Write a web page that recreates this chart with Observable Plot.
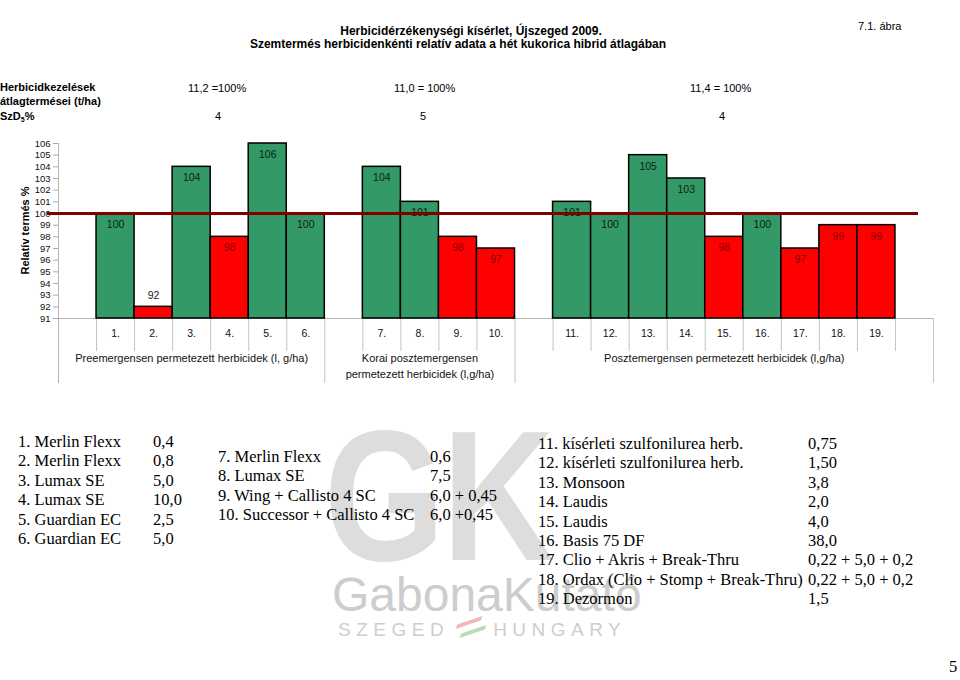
<!DOCTYPE html>
<html><head><meta charset="utf-8">
<script src="https://cdn.jsdelivr.net/npm/d3@7"></script>
<script src="https://cdn.jsdelivr.net/npm/@observablehq/plot@0.6"></script>
<style>
body{margin:0;background:#fff;}
#page{position:relative;width:960px;height:680px;overflow:hidden;font-family:"Liberation Sans",Arial,sans-serif;color:#000;background:#fff;}
.abs{position:absolute;white-space:nowrap;line-height:13px;z-index:2;}
.leg{position:absolute;font-family:"Liberation Serif","Times New Roman",serif;font-size:16.5px;line-height:19.4px;z-index:2;white-space:nowrap;color:#000;}
.leg span{display:inline-block;}
#chart{position:absolute;left:0;top:130px;z-index:1;}
.wm{position:absolute;z-index:0;white-space:nowrap;line-height:1;}
</style></head><body><div id="page"></div>
<script>
// ---- data ----
const categories = ["1.","2.","3.","4.","5.","6.","7.","8.","9.","10.","11.","12.","13.","14.","15.","16.","17.","18.","19."];
const values = [100, 92, 104, 98, 106, 100, 104, 101, 98, 97, 101, 100, 105, 103, 98, 100, 97, 99, 99];
const groupNames = [
  "Preemergensen permetezett herbicidek (l, g/ha)",
  "Korai posztemergensen\npermetezett herbicidek (l,g/ha)",
  "Posztemergensen permetezett herbicidek (l,g/ha)"
];
const groupSizes = [6, 4, 9];
const groupYield = ["11,2 =100%", "11,0 = 100%", "11,4 = 100%"];
const groupSzD = ["4", "5", "4"];
const yTicks = [91,92,93,94,95,96,97,98,99,100,101,102,103,104,105,106];
const reference = 100;
const legend1Names = ["1. Merlin Flexx","2. Merlin Flexx","3. Lumax SE","4. Lumax SE","5. Guardian EC","6. Guardian EC"];
const legend1Doses = ["0,4","0,8","5,0","10,0","2,5","5,0"];
const legend2Names = ["7. Merlin Flexx","8. Lumax SE","9. Wing + Callisto 4 SC","10. Successor + Callisto 4 SC"];
const legend2Doses = ["0,6","7,5","6,0 + 0,45","6,0 +0,45"];
const legend3Names = ["11. kísérleti szulfonilurea herb.","12. kísérleti szulfonilurea herb.","13. Monsoon","14. Laudis","15. Laudis","16. Basis 75 DF","17. Clio + Akris + Break-Thru","18. Ordax (Clio + Stomp + Break-Thru)","19. Dezormon"];
const legend3Doses = ["0,75","1,50","3,8","2,0","4,0","38,0","0,22 + 5,0 + 0,2","0,22 + 5,0 + 0,2","1,5"];

// ---- build slots: one empty slot before each group, one after the last ----
let slot = 0;
const bars = [];
const groupSpans = [];
groupSizes.forEach((n, g) => {
  const start = slot; slot += 1;
  for (let k = 0; k < n; k++) {
    const i = bars.length;
    bars.push({label: categories[i], value: values[i], slot});
    slot++;
  }
  groupSpans.push({name: groupNames[g], start, end: slot});
});
const totalSlots = slot + 1;
groupSpans[groupSpans.length - 1].end = totalSlots;
const longBounds = [...groupSpans.map(d => d.start).slice(1), totalSlots];
const groupEdges = new Set([...groupSpans.map(d => d.start), totalSlots]);
const shortBounds = Array.from(new Set(bars.flatMap(d => [d.slot, d.slot + 1]))).filter(b => !groupEdges.has(b));

const GREEN = "#339966", RED = "#ff0000";
const base = yTicks[0];
const isGood = d => d.value >= reference;
const fits = d => d.value - base >= 2;

const page = document.getElementById("page");
function add(html, cls, style) {
  const el = document.createElement("div");
  el.className = cls; el.setAttribute("style", style); el.innerHTML = html;
  page.appendChild(el); return el;
}

// ---- chart ----
const chart = Plot.plot({
  width: 960, height: 260,
  marginTop: 13, marginBottom: 72, marginLeft: 58, marginRight: 27,
  x: {domain: [0, totalSlots], axis: null},
  y: {domain: [base, yTicks[yTicks.length - 1]], axis: null},
  color: {type: "identity"},
  style: {fontFamily: '"Liberation Sans", Arial, sans-serif', background: "transparent", overflow: "visible"},
  marks: [
    Plot.axisY({ticks: yTicks, tickSize: 5, tickPadding: 3, fontSize: 9.5, stroke: "#aaa", fill: "#111", label: null, tickFormat: d => String(d)}),
    Plot.ruleX([0], {y1: yTicks[yTicks.length - 1], y2: base, stroke: "#b5b5b5", insetBottom: -65}),
    Plot.ruleY([base], {stroke: "#b5b5b5"}),
    Plot.ruleX(shortBounds, {x: d => d, y1: base, y2: base, stroke: "#c4c4c4", insetBottom: -33}),
    Plot.ruleX(longBounds, {x: d => d, y1: base, y2: base, stroke: "#c4c4c4", insetBottom: -65}),
    Plot.rect(bars, {x1: "slot", x2: d => d.slot + 1, y1: base, y2: "value", fill: d => isGood(d) ? GREEN : RED, stroke: "#000", strokeWidth: 1.5}),
    Plot.text(bars, {filter: fits, x: d => d.slot + 0.5, y: "value", dy: 11, text: d => String(d.value), fontSize: 10.5, fill: d => isGood(d) ? "#0c1f12" : "#8a0000"}),
    Plot.text(bars, {filter: d => !fits(d), x: d => d.slot + 0.5, y: "value", dy: -11, text: d => String(d.value), fontSize: 10.5, fill: "#222"}),
    Plot.ruleY([reference], {stroke: "#800000", strokeWidth: 3, insetLeft: -11, insetRight: 15}),
    Plot.text(bars, {x: d => d.slot + 0.5, y: base, dy: 15, text: "label", fontSize: 10.5, fill: "#111"}),
    Plot.text(groupSpans, {x: d => (d.start + d.end) / 2, y: base, dy: 32, lineAnchor: "top", text: "name", fontSize: 11, lineHeight: 1.45, fill: "#111"})
  ]
});
chart.id = "chart";
page.appendChild(chart);

// ---- titles & header ----
add("Herbicidérzékenységi kísérlet, Újszeged 2009.", "abs", "left:171px;width:600px;text-align:center;top:25px;font-weight:bold;font-size:12px;");
add("Szemtermés herbicidenkénti relatív adata a hét kukorica hibrid átlagában", "abs", "left:158px;width:600px;text-align:center;top:38px;font-weight:bold;font-size:12px;");
add("7.1. ábra", "abs", "left:858px;top:20px;font-size:11px;");
add("Herbicidkezelések", "abs", "left:0px;top:81px;font-weight:bold;font-size:11px;");
add("átlagtermései (t/ha)", "abs", "left:0px;top:95px;font-weight:bold;font-size:11px;");
add("SzD<sub style='font-size:7px;vertical-align:-2px'>5</sub>%", "abs", "left:0px;top:110px;font-weight:bold;font-size:11px;");
const yieldLeft = [188, 394, 690];
const szdCenter = [218, 423, 722];
groupYield.forEach((t, i) => add(t, "abs", `left:${yieldLeft[i]}px;top:82px;font-size:11px;`));
groupSzD.forEach((t, i) => add(t, "abs", `left:${szdCenter[i] - 20}px;width:40px;text-align:center;top:110px;font-size:11px;`));
add("Relatív termés %", "abs", "left:-25px;top:224px;width:100px;text-align:center;font-weight:bold;font-size:11px;transform:rotate(-90deg);");

// ---- legend blocks ----
function legend(names, doses, left, top, col) {
  add(names.map((n, i) => `<span style="width:${col}px">${n}</span><span>${doses[i]}</span>`).join("<br>"), "leg", `left:${left}px;top:${top}px;`);
}
legend(legend1Names, legend1Doses, 18, 432, 135);
legend(legend2Names, legend2Doses, 218, 447, 212);
legend(legend3Names, legend3Doses, 538, 434, 270);
add("5", "leg", "left:949px;top:657px;");

// ---- watermark ----
add("GK", "wm", "left:324px;top:404px;font-family:'Liberation Sans',Arial,sans-serif;font-weight:bold;font-size:185px;color:#dddddd;transform:scaleX(0.84);transform-origin:left top;letter-spacing:-3px;");
add("GabonaKutató", "wm", "left:332px;top:571px;font-family:'Liberation Sans',Arial,sans-serif;font-size:48px;color:#cdcdcd;");
add("SZEGED<span style='display:inline-block;width:44px;height:14px;position:relative;vertical-align:0px'><span style='position:absolute;left:10px;top:-2px;width:20px;height:5px;background:#f3b6b6;transform:skewX(-40deg) rotate(-25deg)'></span><span style='position:absolute;left:14px;top:7px;width:20px;height:5px;background:#b6dbb6;transform:skewX(-40deg) rotate(-25deg)'></span></span>HUNGARY", "wm", "left:338px;top:620px;font-family:'Liberation Sans',Arial,sans-serif;font-size:19px;letter-spacing:5.5px;color:#cdcdcd;");
</script></body></html>
